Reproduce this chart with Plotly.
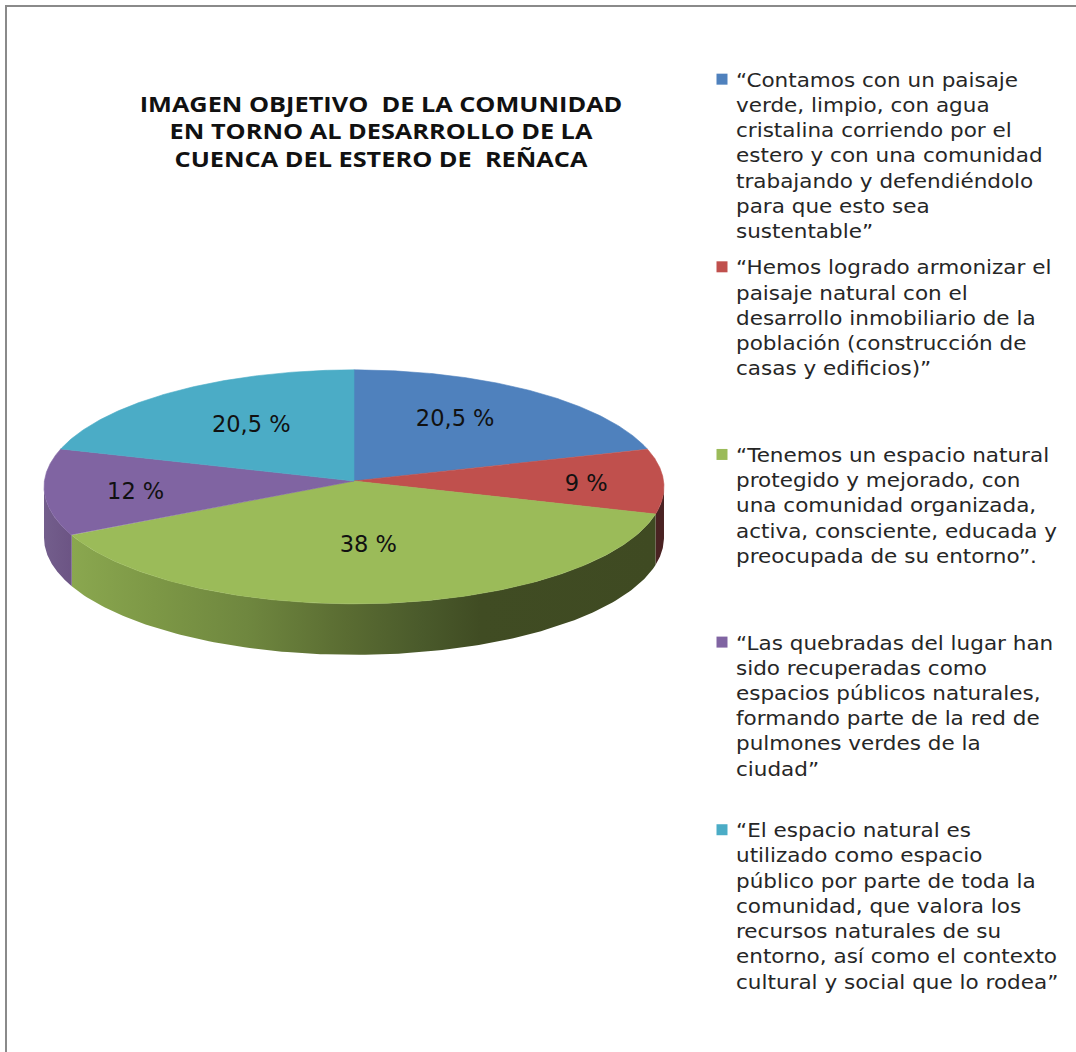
import numpy as np
import plotly.graph_objects as go

NBSP = "\u00a0"
title_lines = [
    f"IMAGEN OBJETIVO {NBSP}DE LA COMUNIDAD",
    "EN TORNO AL DESARROLLO DE LA",
    f"CUENCA DEL ESTERO DE {NBSP}REÑACA",
]
categories = [
    ["“Contamos con un paisaje", "verde, limpio, con agua", "cristalina corriendo por el",
     "estero y con una comunidad", "trabajando y defendiéndolo", "para que esto sea", "sustentable”"],
    ["“Hemos logrado armonizar el", "paisaje natural con el", "desarrollo inmobiliario de la",
     "población (construcción de", "casas y edificios)”"],
    ["“Tenemos un espacio natural", "protegido y mejorado, con", "una comunidad organizada,",
     "activa, consciente, educada y", "preocupada de su entorno”."],
    ["“Las quebradas del lugar han", "sido recuperadas como", "espacios públicos naturales,",
     "formando parte de la red de", "pulmones verdes de la", "ciudad”"],
    ["“El espacio natural es", "utilizado como espacio", "público por parte de toda la",
     "comunidad, que valora los", "recursos naturales de su", "entorno, así como el contexto",
     "cultural y social que lo rodea”"],
]
values = [20.5, 9, 38, 12, 20.5]
value_labels = ["20,5 %", "9 %", "38 %", "12 %", "20,5 %"]
colors = ["#4f81bd", "#c0504d", "#9bbb59", "#8064a2", "#4bacc6"]

# Styling / projection of the tilted disc
W, H = 1076, 1052
CX, CY, RX, RY = 354, 481, 309.6, 116.7  # pixel centre and radii of the disc
PERSP = 0.05
DEPTH = 51 / RY
LABEL_RX = [0.56, 0.75, 0.48, 0.706, 0.567]
LABEL_RY = [0.72, 0.0, 0.51, 0.7, 0.65]
LABEL_DROP = 4.5 / RY
RIM_EDGE = np.degrees(np.arcsin(PERSP))  # the rim turns away a little past the sides


def project(th_deg, r=1.0, ry=None):
    th = np.radians(th_deg)
    xx = r * np.sin(th)
    yy = (r if ry is None else ry) * np.cos(th)
    s = 1 / (1 + PERSP * yy)
    return xx * s, yy * s


cum = np.concatenate([[0], np.cumsum(values)]) / sum(values) * 360
fig = go.Figure()

wall_styles = {
    1: dict(fillcolor="#4a2222"),
    2: dict(fillgradient=dict(type="horizontal", colorscale=[
        [0, "#8aa74f"], [0.14, "#7d9846"], [0.3, "#6f873f"], [0.47, "#5a6c32"],
        [0.6, "#4a5a2b"], [0.7, "#404c23"], [1, "#3f4a22"]])),
    3: dict(fillgradient=dict(type="horizontal", colorscale=[[0, "#735e8c"], [1, "#6c5484"]])),
}
front_start, front_end = 90 + RIM_EDGE, 270 - RIM_EDGE

# side walls (only the front half of the rim is visible)
for i, style in wall_styles.items():
    a0, a1 = max(cum[i], front_start), min(cum[i + 1], front_end)
    th = np.linspace(a0, a1, 140)
    x, y = project(th)
    fig.add_trace(go.Scatter(
        x=np.concatenate([x, x[::-1], x[:1]]),
        y=np.concatenate([y, y[::-1] - DEPTH, y[:1]]),
        mode="lines", line=dict(width=0), fill="toself",
        hoverinfo="skip", showlegend=False, **style))

# top faces
for i, v in enumerate(values):
    th = np.linspace(cum[i], cum[i + 1], 160)
    x, y = project(th)
    fig.add_trace(go.Scatter(
        x=np.concatenate([[0], x, [0]]), y=np.concatenate([[0], y, [0]]),
        mode="lines", line=dict(width=0.6, color=colors[i]), fill="toself",
        fillcolor=colors[i], hoverinfo="text", text=f"{value_labels[i]}", showlegend=False))

# percentage labels
mids = (cum[:-1] + cum[1:]) / 2
lx, ly = [], []
for i, m in enumerate(mids):
    a, b = project(m, LABEL_RX[i], LABEL_RY[i])
    lx.append(a)
    ly.append(b - LABEL_DROP)
fig.add_trace(go.Scatter(x=lx, y=ly, mode="text", text=value_labels, hoverinfo="skip",
                         textposition="middle center", showlegend=False,
                         textfont=dict(family="DejaVu Sans", size=22.5, color="#111111")))

# legend
MAX_LINES = 7
for i, lines in enumerate(categories):
    padded = lines + [NBSP] * (MAX_LINES - len(lines))
    fig.add_trace(go.Scatter(x=[None], y=[None], mode="markers", name="<br>".join(padded),
                             legendgroup=f"g{i}", hoverinfo="skip",
                             marker=dict(symbol="square", size=11, color=colors[i])))

fig.update_layout(
    width=W, height=H, margin=dict(l=0, r=0, t=0, b=0),
    paper_bgcolor="white", plot_bgcolor="white",
    title=dict(text="<br>".join(title_lines), x=381 / W, xanchor="center", y=1 - 112 / H, yanchor="top",
               font=dict(family="Open Sans", size=21, color="#111111", weight="bold")),
    xaxis=dict(visible=False, fixedrange=True, range=[-CX / RX, (W - CX) / RX]),
    yaxis=dict(visible=False, fixedrange=True, range=[-(H - CY) / RY, CY / RY]),
    legend=dict(x=696 / W, xanchor="left", y=1 - 60 / H, yanchor="top", traceorder="normal",
                bgcolor="rgba(0,0,0,0)", itemclick=False, itemdoubleclick=False,
                font=dict(family="DejaVu Sans", size=19.4, color="#262626")),
    shapes=[
        dict(type="line", xref="paper", yref="paper", x0=5.5 / W, x1=1, y0=1 - 6 / H, y1=1 - 6 / H,
             line=dict(color="#8a8a8a", width=2)),
        dict(type="line", xref="paper", yref="paper", x0=6 / W, x1=6 / W, y0=0, y1=1 - 5 / H,
             line=dict(color="#8a8a8a", width=2)),
    ],
    showlegend=True,
)

# The reference's type is stretched sideways, its legend entries are evenly spaced,
# and its legend squares sit next to the first line of each entry.
post = """
document.body.style.margin='0';document.body.style.overflow='hidden';
function stretch(el, s){
  var x = parseFloat(el.getAttribute('x')) || 0;
  var old = el.getAttribute('transform') || '';
  el.setAttribute('transform', old + ' translate(' + (x*(1-s)) + ',0) scale(' + s + ',1)');
}
document.querySelectorAll('.legend .scrollbox').forEach(function(b){ b.removeAttribute('clip-path'); });
document.querySelectorAll('.legendtext').forEach(function(t){ stretch(t, 1.11); });
document.querySelectorAll('.gtitle').forEach(function(t){ stretch(t, 1.205); });
document.querySelectorAll('g.legendpoints').forEach(function(g){
  g.setAttribute('transform', 'translate(6,-75.6)');
});
document.querySelectorAll('.legend .traces').forEach(function(g, i){
  g.setAttribute('transform', (g.getAttribute('transform') || '') + ' translate(0,' + (i*8.1) + ')');
});
"""
fig.write_html("out.html", config=dict(displayModeBar=False), post_script=post)
